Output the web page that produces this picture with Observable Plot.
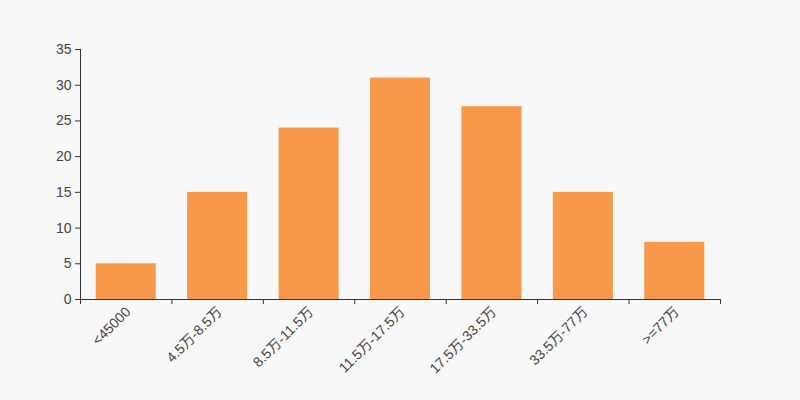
<!DOCTYPE html>
<html>
<head>
<meta charset="utf-8">
<script src="https://cdn.jsdelivr.net/npm/d3@7"></script>
<script src="https://cdn.jsdelivr.net/npm/@observablehq/plot@0.6"></script>
<style>
  html, body { margin: 0; padding: 0; background: #f8f8f8; }
  #chart { width: 800px; height: 400px; }
</style>
</head>
<body>
<div id="chart"></div>
<script>
const categories = ["<45000", "4.5万-8.5万", "8.5万-11.5万", "11.5万-17.5万", "17.5万-33.5万", "33.5万-77万", ">=77万"];
const values = [5, 15, 24, 31, 27, 15, 8];
const yTicks = [0, 5, 10, 15, 20, 25, 30, 35];

const data = categories.map((c, i) => ({category: c, index: i, value: values[i]}));
const boundaries = d3.range(categories.length + 1);

const chart = Plot.plot({
  width: 800,
  height: 400,
  marginLeft: 80,
  marginRight: 80,
  marginTop: 49,
  marginBottom: 101,
  style: {background: "#f8f8f8", fontFamily: "'Liberation Sans', 'Noto Sans CJK SC', sans-serif", fontSize: "14px", color: "#444"},
  x: {type: "linear", domain: [0, categories.length], axis: null},
  y: {domain: [0, 35], axis: null},
  marks: [
    Plot.rectY(data, {x1: "index", x2: d => d.index + 1, y: "value", fill: "#f8994a", insetLeft: 15.7, insetRight: 15.7}),
    Plot.axisY({ticks: yTicks, tickSize: 5, tickPadding: 4, stroke: "#333", fill: "#444", fontSize: 14, label: null}),
    Plot.axisX({ticks: boundaries, tickFormat: () => "", tickSize: 5, stroke: "#333", label: null}),
    Plot.ruleX([0], {stroke: "#333"}),
    Plot.ruleY([0], {stroke: "#333"}),
    Plot.text(data, {x: d => d.index + 0.5, y: 0, text: "category", rotate: -45, textAnchor: "end", dx: 2, dy: 10, fill: "#444", fontSize: 14})
  ]
});
document.getElementById("chart").append(chart);
</script>
</body>
</html>
